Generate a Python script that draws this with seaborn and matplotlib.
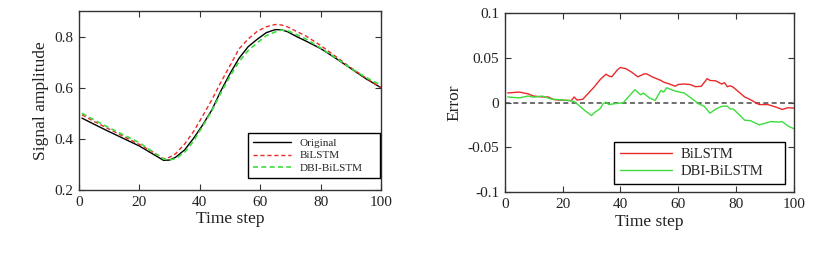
import matplotlib
matplotlib.use("Agg")
import matplotlib.pyplot as plt
import seaborn as sns
import pandas as pd

# ---------------- data ----------------
t_amp = [1, 5, 10, 15, 20, 25, 28, 30, 32, 35, 38, 41, 44, 47, 50, 53, 56, 59,
         62, 65, 67, 69, 72, 75, 80, 85, 90, 95, 100]
original = [0.481, 0.457, 0.428, 0.400, 0.372, 0.337, 0.316, 0.317, 0.328, 0.357,
            0.403, 0.455, 0.513, 0.588, 0.655, 0.715, 0.760, 0.789, 0.815, 0.827,
            0.826, 0.819, 0.800, 0.783, 0.753, 0.715, 0.675, 0.635, 0.600]
bilstm = [0.494, 0.468, 0.438, 0.408, 0.378, 0.345, 0.322, 0.328, 0.342, 0.380,
          0.430, 0.490, 0.553, 0.622, 0.686, 0.752, 0.790, 0.820, 0.838, 0.847,
          0.845, 0.838, 0.820, 0.803, 0.765, 0.722, 0.678, 0.638, 0.600]
dbi_bilstm = [0.500, 0.474, 0.443, 0.414, 0.385, 0.345, 0.321, 0.318, 0.322, 0.348,
              0.392, 0.450, 0.510, 0.580, 0.645, 0.702, 0.745, 0.775, 0.803, 0.818,
              0.825, 0.823, 0.808, 0.791, 0.755, 0.717, 0.676, 0.640, 0.610]

t_err_bilstm = [1, 3, 5, 8, 10, 13, 15, 17, 19, 21, 23, 24, 25, 27, 29, 31, 33, 35,
                36, 37, 39, 40, 42, 44, 46, 48, 49, 51, 54, 55, 57, 59, 60, 62, 64,
                66, 68, 70, 71, 73, 75, 76, 77, 78, 79, 81, 83, 85, 88, 91, 94, 96,
                98, 100]
err_bilstm = [0.011, 0.0115, 0.012, 0.010, 0.0075, 0.0065, 0.0065, 0.0035, 0.003,
              0.0027, 0.0025, 0.0065, 0.003, 0.004, 0.011, 0.018, 0.026, 0.032,
              0.030, 0.029, 0.037, 0.0395, 0.038, 0.034, 0.029, 0.032, 0.0325,
              0.029, 0.025, 0.023, 0.021, 0.0185, 0.0205, 0.021, 0.0205, 0.018,
              0.0185, 0.027, 0.025, 0.0245, 0.021, 0.0225, 0.018, 0.019, 0.0175,
              0.012, 0.0065, 0.0035, -0.002, -0.002, -0.005, -0.0075, -0.0055,
              -0.006]

t_err_dbi = [1, 5, 8, 10, 13, 16, 19, 22, 24, 26, 28, 30, 31, 33, 34, 35, 36, 38,
             41, 43, 45, 47, 48, 50, 52, 54, 55, 56, 59, 62, 65, 67, 69, 71, 73,
             75, 77, 78, 79, 81, 83, 85, 88, 90, 92, 95, 96, 98, 100]
err_dbi = [0.0065, 0.0055, 0.0075, 0.0063, 0.0075, 0.0042, 0.0034, 0.0026, 0.0015,
           -0.004, -0.0095, -0.0142, -0.011, -0.0065, -0.001, 0.0008, -0.002,
           -0.001, 0.000, 0.0075, 0.0146, 0.009, 0.0108, 0.0055, 0.0026, 0.0138,
           0.012, 0.0168, 0.013, 0.011, 0.004, -0.001, -0.004, -0.0116, -0.007,
           -0.004, -0.0037, -0.007, -0.0068, -0.013, -0.0195, -0.020, -0.0247,
           -0.023, -0.021, -0.0216, -0.021, -0.026, -0.029]

x_ticks = [0, 20, 40, 60, 80, 100]
amp_ticks = [0.2, 0.4, 0.6, 0.8]
amp_tick_labels = ["0.2", "0.4", "0.6", "0.8"]
err_ticks = [-0.1, -0.05, 0, 0.05, 0.1]
err_tick_labels = ["-0.1", "-0.05", "0", "0.05", "0.1"]

# ---------------- style ----------------
sns.set_theme(style="white")
plt.rcParams["font.family"] = ["Liberation Serif", "DejaVu Serif"]
plt.rcParams["axes.unicode_minus"] = False

fig = plt.figure(figsize=(8.4, 2.73), dpi=100)
ax1 = fig.add_axes([0.094, 0.304, 0.3596, 0.656])
ax2 = fig.add_axes([0.601, 0.296, 0.344, 0.655])

RED = "#ea2a2a"
GREEN = "#3ddd3d"

def style_axes(ax):
    for s in ax.spines.values():
        s.set_visible(True)
        s.set_color("#333333")
        s.set_linewidth(1.0)
    ax.tick_params(direction="in", length=4, width=0.8, colors="#333333",
                   labelcolor="#222222", labelsize=11, top=True, right=True,
                   bottom=True, left=True, pad=4)

# Left panel
sns.lineplot(x=t_amp, y=original, ax=ax1, color="black", linewidth=1.0,
             label="Original")
sns.lineplot(x=t_amp, y=bilstm, ax=ax1, color=RED, linewidth=1.0,
             linestyle=(0, (3, 2)), label="BiLSTM")
sns.lineplot(x=t_amp, y=dbi_bilstm, ax=ax1, color=GREEN, linewidth=1.2,
             linestyle=(0, (3, 2)), label="DBI-BiLSTM")
ax1.set_xlim(0, 100)
ax1.set_ylim(0.2, 0.9)
ax1.set_xticks(x_ticks)
ax1.set_yticks(amp_ticks)
ax1.set_yticklabels(amp_tick_labels)
ax1.set_xlabel("Time step", fontsize=12.5, color="#222222", labelpad=2)
ax1.set_ylabel("Signal amplitude", fontsize=12.5, color="#222222", labelpad=4)
style_axes(ax1)
leg1 = ax1.legend(loc="lower left", bbox_to_anchor=(0.5596, 0.067, 0.437, 0.25),
                  mode="expand", borderaxespad=0, fontsize=8, fancybox=False,
                  edgecolor="black", framealpha=1, handlelength=3.4,
                  handletextpad=0.8, labelspacing=0.25, borderpad=0.45)
leg1.get_frame().set_linewidth(1.0)

# Right panel
sns.lineplot(x=t_err_bilstm, y=err_bilstm, ax=ax2, color=RED, linewidth=1.0,
             label="BiLSTM")
sns.lineplot(x=t_err_dbi, y=err_dbi, ax=ax2, color=GREEN, linewidth=1.0,
             label="DBI-BiLSTM")
ax2.axhline(0, color="#555555", linestyle=(0, (3, 2)), linewidth=1.2, zorder=1)
ax2.set_xlim(0, 100)
ax2.set_ylim(-0.1, 0.1)
ax2.set_xticks(x_ticks)
ax2.set_yticks(err_ticks)
ax2.set_yticklabels(err_tick_labels)
ax2.set_xlabel("Time step", fontsize=12.5, color="#222222", labelpad=2)
ax2.set_ylabel("Error", fontsize=12.5, color="#222222", labelpad=4)
style_axes(ax2)
leg2 = ax2.legend(loc="lower left", bbox_to_anchor=(0.377, 0.046, 0.594, 0.212),
                  mode="expand", borderaxespad=0, fontsize=10.5, fancybox=False,
                  edgecolor="black", framealpha=1, handlelength=3.6,
                  handletextpad=0.6, labelspacing=0.25, borderpad=0.4)
leg2.get_frame().set_linewidth(1.0)

fig.savefig("out.png", dpi=100)
